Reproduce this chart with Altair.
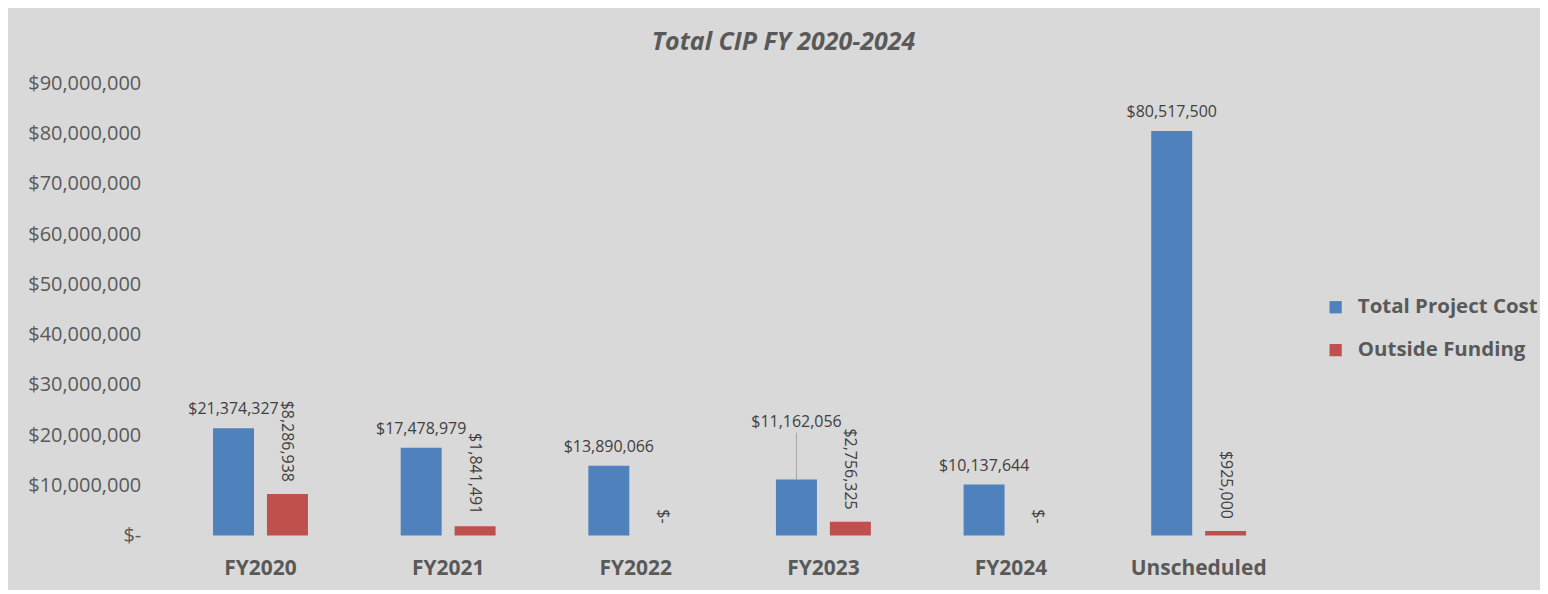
import altair as alt
import pandas as pd

categories = ["FY2020", "FY2021", "FY2022", "FY2023", "FY2024", "Unscheduled"]
series_names = ["Total Project Cost", "Outside Funding"]
total_cost = [21374327, 17478979, 13890066, 11162056, 10137644, 80517500]
outside_funding = [8286938, 1841491, 0, 2756325, 0, 925000]

rows = []
for c, t, o in zip(categories, total_cost, outside_funding):
    rows.append({"cat": c, "series": series_names[0], "value": t})
    rows.append({"cat": c, "series": series_names[1], "value": o})
df = pd.DataFrame(rows)

FONT = "Open Sans"
TXT = "#404040"
AX = "#595959"

label_expr = "datum.value == 0 ? '$-' : '$' + format(datum.value, ',')"

x_enc = alt.X("cat:N", sort=categories, title=None,
              scale=alt.Scale(paddingInner=0, paddingOuter=0),
              axis=alt.Axis(labelAngle=0, labelFontSize=21, labelFontWeight="bold",
                            labelColor=AX, labelFont=FONT, domain=False, ticks=False,
                            tickSize=0, labelPadding=22))
xo_enc = alt.XOffset("series:N", sort=series_names,
                     scale=alt.Scale(domain=series_names, paddingInner=0.24, paddingOuter=0.86))
y_enc = alt.Y("value:Q", title=None,
              scale=alt.Scale(domain=[0, 90000000], nice=False),
              axis=alt.Axis(values=list(range(0, 90000001, 10000000)),
                            labelExpr="datum.value == 0 ? '$-\u00a0\u00a0' : '$' + format(datum.value, ',')",
                            labelFontSize=20, labelColor=AX, labelFont=FONT,
                            domain=False, ticks=False, tickSize=0, grid=False,
                            labelPadding=26))

base = alt.Chart(df).encode(x=x_enc, xOffset=xo_enc, y=y_enc)

bars = base.mark_bar().encode(
    color=alt.Color("series:N", sort=series_names,
                    scale=alt.Scale(domain=series_names, range=["#4f81bd", "#c0504d"]),
                    legend=alt.Legend(title=None, orient="none", legendX=1161, legendY=214,
                                      symbolType="square", symbolSize=150,
                                      symbolStrokeWidth=0, labelFontSize=20.5,
                                      labelFontWeight="bold", labelColor=AX, labelFont=FONT,
                                      labelOffset=12, rowPadding=22, padding=0,
                                      labelLimit=0))
)

blue_labels = base.transform_filter(
    (alt.datum.series == series_names[0]) & (alt.datum.cat != "FY2023")
).transform_calculate(label=label_expr).mark_text(
    baseline="alphabetic", dy=-14, fontSize=16, color=TXT, font=FONT
).encode(text="label:N")

moved_label = base.transform_filter(
    (alt.datum.series == series_names[0]) & (alt.datum.cat == "FY2023")
).transform_calculate(label=label_expr).mark_text(
    baseline="alphabetic", dy=-53, fontSize=16, color=TXT, font=FONT
).encode(text="label:N")

leader = base.transform_filter(
    (alt.datum.series == series_names[0]) & (alt.datum.cat == "FY2023")
).transform_calculate(top="datum.value + 9300000").mark_rule(
    color="#a6a6a6", strokeWidth=1
).encode(y2="top:Q")

red_labels = base.transform_filter(
    alt.datum.series == series_names[1]
).transform_calculate(label=label_expr).mark_text(
    angle=90, align="right", baseline="middle", dx=-12, fontSize=16, color=TXT, font=FONT
).encode(text="label:N")

chart = alt.layer(bars, leader, blue_labels, moved_label, red_labels).properties(
    width=1128, height=453,
    title=alt.TitleParams("Total CIP FY 2020-2024", fontSize=25, fontWeight="bold",
                          fontStyle="italic", color=AX, font=FONT, offset=18, dx=54),
    autosize=alt.AutoSizeParams(type="none"),
    padding={"left": 159, "top": 75, "right": 248, "bottom": 54},
).configure(background="#d9d9d9").configure_view(stroke=None)

chart.save("out.html", embed_options={"renderer": "svg", "actions": False})
